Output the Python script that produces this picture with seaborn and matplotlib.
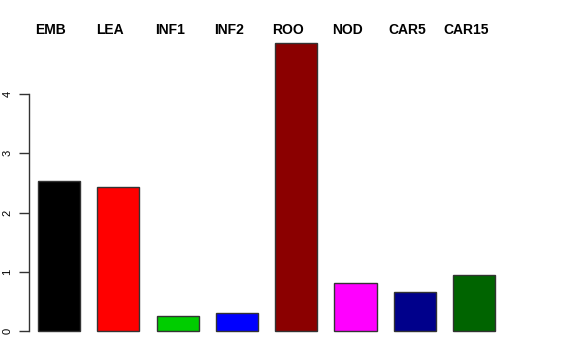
import matplotlib
matplotlib.use("Agg")
import matplotlib.pyplot as plt
import matplotlib.transforms as mtransforms
import seaborn as sns
import pandas as pd

categories = ["EMB", "LEA", "INF1", "INF2", "ROO", "NOD", "CAR5", "CAR15"]
values = [2.53, 2.43, 0.25, 0.30, 4.86, 0.81, 0.66, 0.95]
colors = ["#000000", "#FF0000", "#00CD00", "#0000FF", "#8B0000", "#FF00FF", "#00008B", "#006400"]
yticks = [0, 1, 2, 3, 4]

sns.set_theme(style="white")
plt.rcParams['font.family'] = ['Liberation Sans', 'DejaVu Sans']
plt.rcParams['text.color'] = 'black'
plt.rcParams['xtick.color'] = 'black'
plt.rcParams['ytick.color'] = 'black'

W, H = 576, 360
fig = plt.figure(figsize=(W / 100, H / 100), dpi=100)
left_px, right_px, top_px, bottom_px = 29, 576, 38, 340
ax = fig.add_axes([left_px / W, 1 - bottom_px / H, (right_px - left_px) / W, (bottom_px - top_px) / H])

df = pd.DataFrame({"cat": categories, "val": values})
sns.barplot(data=df, x="cat", y="val", hue="cat", palette=colors, legend=False,
            width=0.71, edgecolor="#333333", linewidth=1.0, saturation=1, ax=ax)

ppu = 59.3
ax.set_xlim(-(59 - left_px) / ppu, (right_px - 59) / ppu)
ypu = 59.25
ax.set_ylim(-(bottom_px - 331) / ypu, (331 - top_px) / ypu)

for s in ["top", "right", "bottom"]:
    ax.spines[s].set_visible(False)
ax.spines["left"].set_bounds(0, 4)
ax.spines["left"].set_color("#333333")
ax.spines["left"].set_linewidth(1.0)

ax.set_yticks(yticks)
ax.set_yticklabels([str(t) for t in yticks], rotation=90, va="center", fontsize=8, color="black")
ax.tick_params(axis="y", left=True, length=7, width=1.0, color="#333333", pad=5)

ax.xaxis.tick_top()
ax.set_xticks(range(len(categories)))
ax.set_xticklabels(categories, fontsize=10, fontweight="bold", color="black")
ax.tick_params(axis="x", top=False, bottom=False, length=0, pad=0.5)
offset = mtransforms.ScaledTranslation(-8 / 100, 0, fig.dpi_scale_trans)
for lab in ax.get_xticklabels():
    lab.set_transform(lab.get_transform() + offset)
ax.set_xlabel("")
ax.set_ylabel("")
ax.grid(False)

fig.savefig("out.png", dpi=100, facecolor="white")
